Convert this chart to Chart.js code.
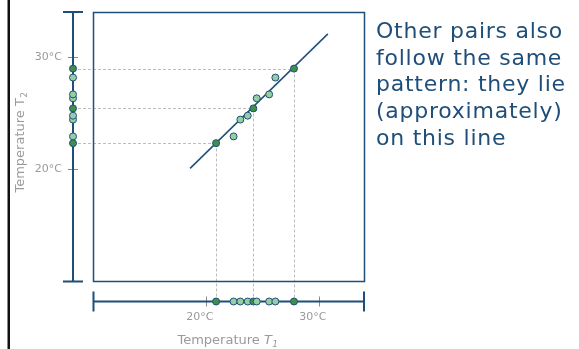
<!DOCTYPE html>
<html>
<head>
<meta charset="utf-8">
<script src="https://cdn.jsdelivr.net/npm/chart.js@4/dist/chart.umd.min.js"></script>
<style>
  html, body { margin: 0; padding: 0; background: #fff; }
  #wrap { position: relative; width: 579px; height: 349px; }
  #note {
    position: absolute; left: 376px; top: 18px; width: 203px;
    font-family: "DejaVu Sans", Verdana, sans-serif; font-size: 22px;
    letter-spacing: 0.75px; line-height: 26.7px; color: #1f4e79;
  }
</style>
</head>
<body>
<div id="wrap">
  <canvas id="chart" width="579" height="349"></canvas>
  <div id="note">Other pairs also follow the same pattern: they lie (approximately) on this line</div>
</div>
<script>
// readings of the two thermometers
var t1 = [20.9, 22.45, 23.05, 23.7, 24.2, 24.5, 25.6, 26.15, 27.8];
var t2 = [22.3, 22.9, 24.4, 24.75, 25.4, 26.3, 26.65, 28.15, 28.95];
var highlighted = [true, false, false, false, true, false, false, false, true];

// fitted line end points
var lineT1 = [18.6, 30.8];
var lineT2 = [20.05, 32.05];

var tickValues = [20, 30];
var axisMin = 10, axisMax = 34;

var navy = '#1f4e79';
var darkGreen = '#3f8f4c';
var lightGreen = '#95cfa1';
var fontFamily = '"DejaVu Sans", Verdana, sans-serif';

var points = t1.map(function (x, i) { return { x: x, y: t2[i] }; });
var linePoints = lineT1.map(function (x, i) { return { x: x, y: lineT2[i] }; });
var fills = highlighted.map(function (h) { return h ? darkGreen : lightGreen; });

function dot(ctx, x, y, fill) {
    ctx.beginPath();
    ctx.arc(x, y, 3.5, 0, Math.PI * 2);
    ctx.fillStyle = fill;
    ctx.fill();
    ctx.lineWidth = 1;
    ctx.strokeStyle = navy;
    ctx.stroke();
}

var decorations = {
    id: 'decorations',
    beforeDatasetsDraw: function (chart) {
        var ctx = chart.ctx, a = chart.chartArea;
        var xs = chart.scales.x, ys = chart.scales.y;
        var yAxisX = a.left - 20, xAxisY = a.bottom + 20.5;
        ctx.save();
        // dashed guides from the highlighted pairs
        ctx.strokeStyle = '#bdbdbd';
        ctx.lineWidth = 1;
        ctx.setLineDash([3, 2]);
        points.forEach(function (p, i) {
            if (!highlighted[i]) return;
            var px = Math.round(xs.getPixelForValue(p.x)) + 0.5;
            var py = Math.round(ys.getPixelForValue(p.y)) + 0.5;
            ctx.beginPath();
            ctx.moveTo(yAxisX, py); ctx.lineTo(px, py);
            ctx.moveTo(px, py); ctx.lineTo(px, xAxisY);
            ctx.stroke();
        });
        ctx.setLineDash([]);
        // plot frame
        ctx.strokeStyle = navy;
        ctx.lineWidth = 1.5;
        ctx.strokeRect(a.left + 0.5, a.top + 0.5, a.right - a.left, a.bottom - a.top);
        ctx.restore();
    },
    afterDatasetsDraw: function (chart) {
        var ctx = chart.ctx, a = chart.chartArea;
        var xs = chart.scales.x, ys = chart.scales.y;
        var yAxisX = a.left - 20, xAxisY = a.bottom + 20.5;
        ctx.save();
        // black rule on the far left
        ctx.fillStyle = '#111';
        ctx.fillRect(7.5, 0, 2.5, chart.height);

        // tick marks
        ctx.strokeStyle = '#8a8a8a';
        ctx.lineWidth = 1;
        tickValues.forEach(function (v) {
            var py = Math.round(ys.getPixelForValue(v)) + 0.5;
            ctx.beginPath(); ctx.moveTo(yAxisX - 5, py); ctx.lineTo(yAxisX + 5, py); ctx.stroke();
            var px = Math.round(xs.getPixelForValue(v)) + 0.5;
            ctx.beginPath(); ctx.moveTo(px, xAxisY - 5); ctx.lineTo(px, xAxisY + 5); ctx.stroke();
        });

        // offset axes with end caps
        ctx.strokeStyle = navy;
        ctx.lineWidth = 2;
        ctx.beginPath();
        ctx.moveTo(yAxisX, a.top); ctx.lineTo(yAxisX, a.bottom);
        ctx.moveTo(yAxisX - 10, a.top); ctx.lineTo(yAxisX + 10, a.top);
        ctx.moveTo(yAxisX - 10, a.bottom + 0.5); ctx.lineTo(yAxisX + 10, a.bottom + 0.5);
        ctx.moveTo(a.left + 0.5, xAxisY); ctx.lineTo(a.right, xAxisY);
        ctx.moveTo(a.left + 0.5, xAxisY - 10); ctx.lineTo(a.left + 0.5, xAxisY + 10);
        ctx.moveTo(a.right, xAxisY - 10); ctx.lineTo(a.right, xAxisY + 10);
        ctx.stroke();

        // marginal (rug) points
        points.forEach(function (p, i) {
            dot(ctx, yAxisX, ys.getPixelForValue(p.y), fills[i]);
            dot(ctx, xs.getPixelForValue(p.x), xAxisY, fills[i]);
        });

        // axis titles
        ctx.fillStyle = '#9a9a9a';
        ctx.textBaseline = 'alphabetic';
        var main = 'Temperature ';
        ctx.font = '13px ' + fontFamily;
        var wMain = ctx.measureText(main).width;
        ctx.font = 'italic 13px ' + fontFamily;
        var wT = ctx.measureText('T').width;
        ctx.font = 'italic 9px ' + fontFamily;
        var wSub = ctx.measureText('1').width;
        var total = wMain + wT + wSub;
        var cx = (a.left + a.right) / 2 - 1, by = 344;
        var x0 = cx - total / 2;
        ctx.textAlign = 'left';
        ctx.font = '13px ' + fontFamily;
        ctx.fillText(main, x0, by);
        ctx.font = 'italic 13px ' + fontFamily;
        ctx.fillText('T', x0 + wMain, by);
        ctx.font = 'italic 9px ' + fontFamily;
        ctx.fillText('1', x0 + wMain + wT + 0.5, by + 3);

        ctx.translate(24, (a.top + a.bottom) / 2 - 4);
        ctx.rotate(-Math.PI / 2);
        ctx.font = '13px ' + fontFamily;
        var main2 = 'Temperature T';
        var w2 = ctx.measureText(main2).width;
        ctx.font = '9px ' + fontFamily;
        var ws2 = ctx.measureText('2').width;
        var y0 = -(w2 + ws2) / 2;
        ctx.font = '13px ' + fontFamily;
        ctx.fillText(main2, y0, 0);
        ctx.font = '9px ' + fontFamily;
        ctx.fillText('2', y0 + w2 + 0.5, 3);
        ctx.restore();
    }
};

function tickSetup(scale) {
    scale.ticks = tickValues.map(function (v) { return { value: v }; });
}

var chart = new Chart(document.getElementById('chart').getContext('2d'), {
    type: 'scatter',
    data: {
        datasets: [{
            type: 'line',
            data: linePoints,
            borderColor: navy,
            borderWidth: 1.5,
            pointRadius: 0,
            fill: false,
            order: 2
        }, {
            data: points,
            pointBackgroundColor: fills,
            pointBorderColor: navy,
            pointBorderWidth: 1,
            pointRadius: 3.5,
            order: 1
        }]
    },
    options: {
        responsive: false,
        animation: false,
        events: [],
        layout: { padding: { left: 0, top: 12, right: 215, bottom: 0 } },
        plugins: {
            legend: { display: false },
            tooltip: { enabled: false }
        },
        scales: {
            x: {
                type: 'linear',
                position: 'bottom',
                min: axisMin,
                max: axisMax,
                grid: { display: false, drawTicks: false },
                border: { display: false },
                afterBuildTicks: tickSetup,
                afterFit: function (s) {
                    s.height = 68;
                    s.paddingLeft = 0; s.paddingRight = 0;
                },
                ticks: {
                    color: '#9a9a9a',
                    font: { family: fontFamily, size: 11 },
                    padding: 30,
                    labelOffset: -6,
                    maxRotation: 0,
                    callback: function (v) { return v + '°C'; }
                }
            },
            y: {
                type: 'linear',
                position: 'left',
                min: axisMin,
                max: axisMax,
                grid: { display: false, drawTicks: false },
                border: { display: false },
                afterBuildTicks: tickSetup,
                afterFit: function (s) {
                    s.width = 93;
                    s.paddingTop = 0; s.paddingBottom = 0;
                },
                ticks: {
                    color: '#9a9a9a',
                    font: { family: fontFamily, size: 11 },
                    padding: 31,
                    callback: function (v) { return v + '°C'; }
                }
            }
        }
    },
    plugins: [decorations]
});
</script>
</body>
</html>
